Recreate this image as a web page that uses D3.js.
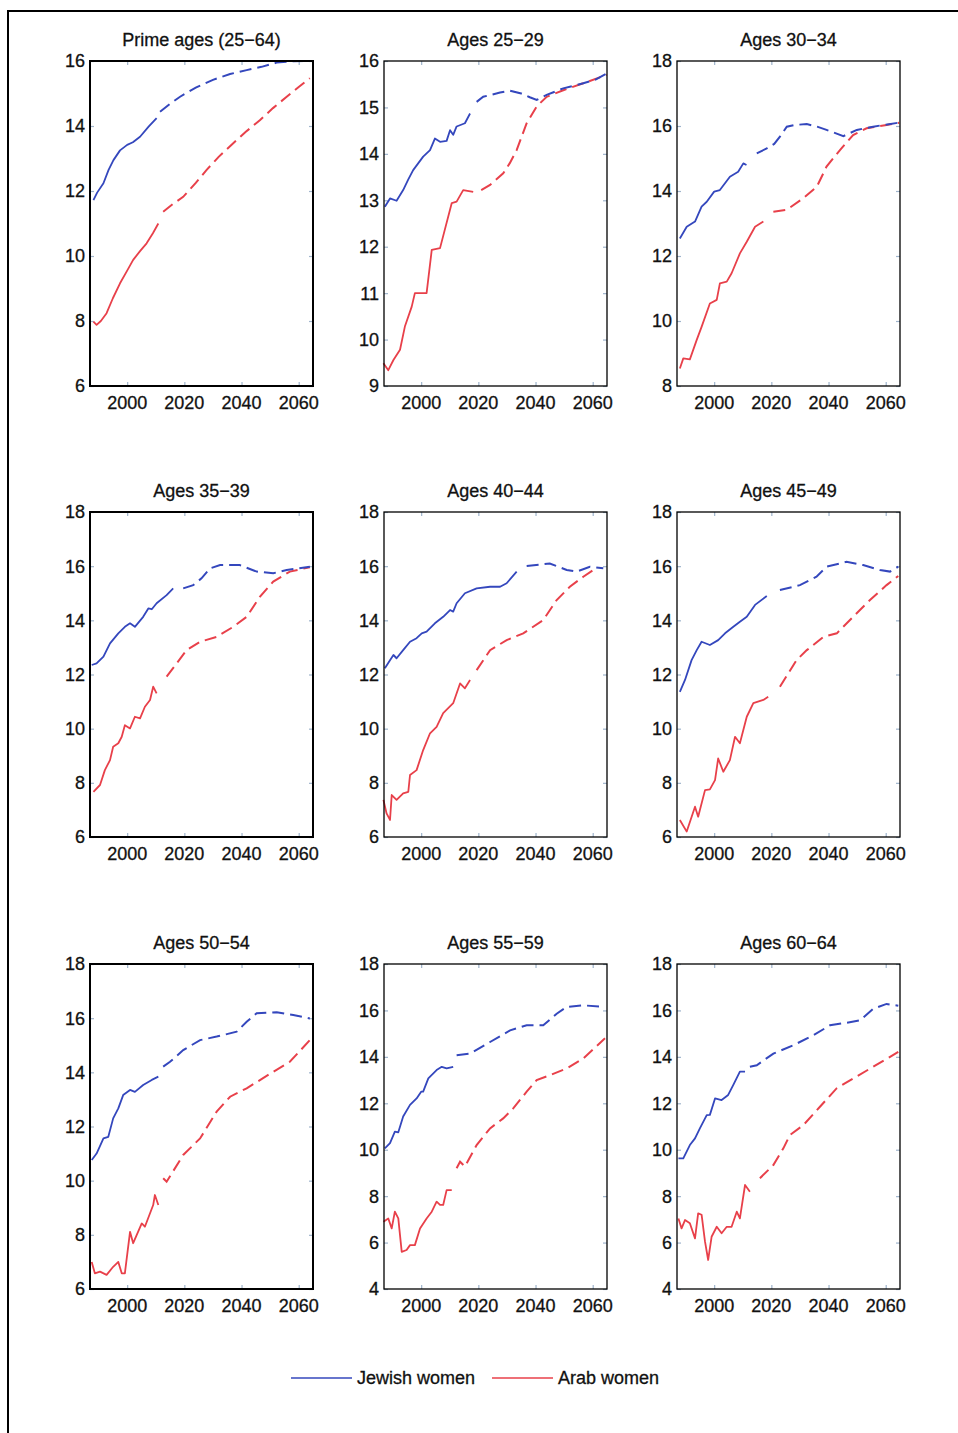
<!DOCTYPE html>
<html>
<head>
<meta charset="utf-8">
<script src="https://cdn.jsdelivr.net/npm/d3@7"></script>
<style>
  html, body { margin: 0; padding: 0; background: #fff; }
  svg { display: block; }
  text { font-family: "Liberation Sans", Arial, Helvetica, sans-serif; fill: #111; stroke: #111; stroke-width: 0.3px; }
</style>
</head>
<body>
<svg id="chart" width="958" height="1433"></svg>
<script>
// ---------------- DATA ----------------
const panelTitles = ["Prime ages (25\u221264)", "Ages 25\u221229", "Ages 30\u221234",
                     "Ages 35\u221239", "Ages 40\u221244", "Ages 45\u221249",
                     "Ages 50\u221254", "Ages 55\u221259", "Ages 60\u221264"];
const yDomains = [[6,16],[9,16],[8,18],[6,18],[6,18],[6,18],[6,18],[4,18],[4,18]];
const yTickSteps = [2,1,2,2,2,2,2,2,2];
const xTicks = [2000, 2020, 2040, 2060];
const xDomain = [1987, 2065];
const seriesNames = ["Jewish women", "Arab women"];

// [year, value]; solid (observed) up to split year, dashed (projection) afterwards
const jewish1 = [[1988.2,11.72],[1989.5,11.95],[1991.7,12.24],[1993.5,12.65],[1995.2,12.95],[1997.5,13.25],[2000,13.42],[2002,13.5],[2004.5,13.67],[2007.5,13.98],[2010.3,14.24],[2011.5,14.44],[2015,14.68],[2018.5,14.9],[2024,15.18],[2030,15.42],[2036,15.6],[2041.8,15.72],[2047,15.82],[2052.3,15.95],[2058,15.99],[2064.5,16.0]];
const arab1 = [[1988.2,7.98],[1989.3,7.88],[1990.8,8.0],[1992.8,8.24],[1995,8.7],[1997.5,9.16],[2000,9.55],[2002.1,9.88],[2004.5,10.15],[2006.8,10.39],[2009,10.7],[2010.9,11.0],[2012.6,11.36],[2016,11.6],[2019.6,11.82],[2024,12.25],[2027.8,12.65],[2032,13.05],[2037.1,13.47],[2041.5,13.82],[2046.4,14.18],[2051,14.55],[2055.8,14.9],[2060,15.2],[2063.9,15.47]];

const jewish2 = [[1987.3,12.86],[1989.1,13.04],[1991.4,12.99],[1993.7,13.22],[1995.5,13.45],[1997.2,13.65],[2000.7,13.94],[2003.1,14.08],[2004.8,14.33],[2006.6,14.26],[2008.9,14.28],[2010.1,14.51],[2011.2,14.41],[2012.4,14.59],[2015.3,14.66],[2017.1,14.87],[2019.4,15.12],[2021.7,15.23],[2027.6,15.32],[2031,15.36],[2035,15.3],[2038,15.22],[2040.4,15.16],[2043.9,15.27],[2049.7,15.41],[2056.7,15.52],[2061,15.6],[2064.9,15.73]];
const arab2 = [[1986.8,9.49],[1988.5,9.34],[1990.3,9.56],[1992.6,9.78],[1994.3,10.28],[1996.7,10.71],[1997.8,11.0],[2001.9,11.0],[2003.7,11.93],[2006.6,11.97],[2010.7,12.94],[2012.4,12.97],[2014.7,13.22],[2018.2,13.18],[2021,13.22],[2024.1,13.33],[2028.7,13.58],[2031,13.8],[2033.4,14.08],[2036.9,14.66],[2040.4,15.02],[2043.9,15.23],[2049.7,15.37],[2056.7,15.52],[2064.9,15.7]];

const jewish3 = [[1988,12.54],[1990.4,12.9],[1993.3,13.06],[1995.6,13.52],[1997.4,13.67],[2000,13.98],[2002,14.03],[2005.5,14.44],[2008.4,14.59],[2010.2,14.85],[2011.3,14.8],[2014.9,15.16],[2018.4,15.31],[2021,15.45],[2023,15.67],[2025.4,15.98],[2028,16.03],[2032.4,16.06],[2036,15.98],[2039.3,15.88],[2045.2,15.69],[2049.9,15.88],[2055.6,15.98],[2064.4,16.1]];
const arab3 = [[1988,8.54],[1989.2,8.85],[1991.5,8.82],[1993.9,9.42],[1995.6,9.82],[1998.5,10.54],[2000.9,10.65],[2002,11.16],[2004.4,11.21],[2006.1,11.47],[2009,12.08],[2011.4,12.44],[2014.3,12.9],[2017.2,13.06],[2020.7,13.36],[2025.4,13.42],[2031.2,13.78],[2035.9,14.13],[2039.3,14.75],[2044,15.26],[2048.6,15.72],[2053.3,15.93],[2060.3,16.03],[2064.7,16.1]];

const jewish4 = [[1987.6,12.35],[1989.3,12.41],[1991.7,12.66],[1994,13.15],[1996.9,13.52],[1999.2,13.76],[2001,13.89],[2002.7,13.76],[2005.6,14.13],[2007.4,14.44],[2008.6,14.41],[2010.3,14.63],[2013.8,14.93],[2016.1,15.18],[2019.6,15.18],[2023.1,15.3],[2026,15.55],[2029,15.92],[2032.5,16.04],[2039.4,16.04],[2045.3,15.8],[2051.1,15.74],[2055.8,15.86],[2063.9,15.98]];
const arab4 = [[1988.2,7.67],[1990.5,7.92],[1992.2,8.47],[1994,8.84],[1995.1,9.33],[1996.9,9.46],[1998.1,9.7],[1999.2,10.13],[2001,10.01],[2002.7,10.44],[2004.5,10.38],[2006.2,10.81],[2008,11.06],[2009.1,11.55],[2010.3,11.3],[2013.8,11.92],[2017.3,12.41],[2020.8,12.9],[2025.5,13.21],[2031.3,13.39],[2037.1,13.76],[2041.8,14.13],[2046.4,14.87],[2051.1,15.43],[2056.9,15.8],[2063.9,15.96]];

const jewish5 = [[1987.3,12.23],[1989.1,12.53],[1990.3,12.72],[1991.4,12.6],[1993.7,12.9],[1996.1,13.21],[1998.4,13.34],[2000.2,13.52],[2001.9,13.58],[2004.8,13.89],[2007.7,14.13],[2010.1,14.38],[2011.2,14.32],[2012.4,14.63],[2015.3,15.0],[2019.4,15.18],[2024.1,15.24],[2027.6,15.24],[2029.9,15.37],[2033.4,15.8],[2036.9,16.01],[2045,16.1],[2050.9,15.86],[2054.4,15.8],[2059,15.98],[2063.7,15.92]];
const arab5 = [[1986.8,7.37],[1987.9,6.87],[1989.1,6.63],[1989.7,7.55],[1991.4,7.37],[1993.7,7.61],[1995.5,7.67],[1996.1,8.29],[1998.4,8.47],[2000.7,9.21],[2003.1,9.83],[2005.4,10.07],[2007.7,10.57],[2011.2,10.94],[2013.6,11.67],[2015.3,11.49],[2017.1,11.8],[2019.4,12.16],[2024.1,12.9],[2029.9,13.27],[2035.7,13.52],[2042.7,14.01],[2047.4,14.75],[2052,15.24],[2056.7,15.61],[2060.2,15.86]];

const jewish6 = [[1988,11.36],[1989.8,11.8],[1992.1,12.53],[1993.9,12.9],[1995.6,13.21],[1998.5,13.09],[2001.4,13.27],[2003.8,13.52],[2006.7,13.76],[2009,13.95],[2011.4,14.13],[2014.3,14.57],[2018.4,14.9],[2023,15.12],[2030,15.3],[2035.8,15.61],[2039.3,15.98],[2046.3,16.16],[2052.1,16.04],[2058,15.86],[2061.5,15.8],[2064.4,15.98]];
const arab6 = [[1988,6.63],[1990.4,6.2],[1993.3,7.12],[1994.4,6.75],[1996.8,7.73],[1998.5,7.76],[2000.3,8.1],[2001.4,8.9],[2003.2,8.41],[2005.5,8.84],[2007.3,9.7],[2009,9.46],[2011.4,10.44],[2013.7,10.94],[2017.2,11.06],[2018.9,11.18],[2023,11.55],[2028.8,12.53],[2032.4,12.9],[2038.2,13.39],[2042.9,13.52],[2048.6,14.13],[2054.5,14.75],[2060.3,15.3],[2064.4,15.64]];

const jewish7 = [[1987.6,10.76],[1989.3,11.0],[1991.7,11.56],[1993.4,11.62],[1995.1,12.3],[1996.9,12.67],[1998.6,13.16],[2001,13.35],[2002.7,13.28],[2005.6,13.53],[2008.6,13.72],[2010.9,13.84],[2012.6,14.21],[2015,14.39],[2019.6,14.82],[2025.5,15.19],[2031.3,15.32],[2038.3,15.5],[2041.8,15.87],[2045.3,16.18],[2052.3,16.22],[2058.1,16.12],[2063.9,15.99]];
const arab7 = [[1987.6,7.0],[1988.7,6.58],[1990.5,6.64],[1992.8,6.52],[1995.1,6.82],[1996.9,7.0],[1998.1,6.58],[1999.2,6.58],[2001,8.11],[2002.1,7.69],[2005.1,8.42],[2006.2,8.3],[2009.1,9.1],[2009.7,9.47],[2010.9,9.1],[2012.6,10.09],[2013.8,9.96],[2019.6,10.95],[2025.5,11.56],[2031.3,12.55],[2036,13.1],[2041.8,13.41],[2051.1,14.02],[2056.9,14.39],[2063.9,15.19]];

const jewish8 = [[1987.3,10.06],[1989.1,10.28],[1990.8,10.78],[1992,10.75],[1993.7,11.43],[1996.1,11.93],[1998.4,12.21],[2000,12.5],[2000.7,12.5],[2002.5,13.07],[2005.4,13.43],[2007.2,13.57],[2008.9,13.5],[2011.2,13.57],[2012.4,14.07],[2017.1,14.14],[2024.1,14.64],[2031.1,15.14],[2036.9,15.36],[2042.7,15.36],[2047.4,15.86],[2050.9,16.15],[2056.7,16.22],[2063.7,16.15]];
const arab8 = [[1986.8,6.9],[1988.5,7.04],[1989.7,6.61],[1990.8,7.33],[1992,7.04],[1993.2,5.6],[1994.9,5.68],[1996.1,5.89],[1997.8,5.89],[1999.6,6.61],[2001.9,7.04],[2003.7,7.33],[2005.4,7.76],[2006.6,7.62],[2007.7,7.62],[2008.9,8.26],[2010.7,8.26],[2012.4,9.2],[2013.6,9.48],[2015.3,9.27],[2019.4,10.2],[2024.1,10.92],[2028.7,11.35],[2032.2,11.78],[2036.9,12.5],[2040.4,13.0],[2045,13.21],[2050.9,13.5],[2056.7,13.93],[2064.3,14.8]];

const jewish9 = [[1987.5,9.63],[1989.2,9.63],[1991.5,10.2],[1993.3,10.49],[1995,10.92],[1997.4,11.49],[1998.5,11.5],[2000.3,12.21],[2002.6,12.14],[2004.9,12.36],[2006.7,12.79],[2009,13.36],[2010.8,13.36],[2012.5,13.57],[2014.9,13.64],[2020.7,14.14],[2027.7,14.5],[2034.7,14.93],[2040.5,15.36],[2046.3,15.47],[2051,15.57],[2055.6,16.07],[2060.3,16.28],[2064.4,16.2]];
const arab9 = [[1987.5,7.04],[1988.6,6.61],[1989.8,6.97],[1991.5,6.83],[1993.3,6.18],[1994.4,7.26],[1995.6,7.2],[1996.8,6.04],[1997.9,5.25],[1999.1,6.25],[2000.9,6.68],[2002.6,6.4],[2004.4,6.68],[2006.1,6.68],[2007.9,7.33],[2009,7.04],[2010.8,8.48],[2012.5,8.19],[2016,8.77],[2020.7,9.34],[2024.2,10.06],[2026.5,10.63],[2031.2,11.06],[2037,11.85],[2042.8,12.64],[2048.6,13.07],[2055.6,13.57],[2064.4,14.21]];

const jewishSeries = [jewish1, jewish2, jewish3, jewish4, jewish5, jewish6, jewish7, jewish8, jewish9];
const arabSeries = [arab1, arab2, arab3, arab4, arab5, arab6, arab7, arab8, arab9];
// last observed year (solid) per panel
const jewishSplit = [2010.3, 2017.1, 2011.3, 2016.1, 2033.4, 2018.4, 2010.9, 2011.2, 2010.8];
const arabSplit   = [2010.9, 2018.2, 2017.2, 2010.3, 2017.1, 2018.9, 2010.9, 2010.7, 2012.5];

// ---------------- LAYOUT ----------------
const colLeft = [90, 384, 677];
const rowTop = [61, 512, 964];
const pw = 223, ph = 325;
const colors = { jewish: "#3447bd", arab: "#e8404a" };
const fontSize = 18;

const svg = d3.select("#chart");

// outer frame (extends past the right and bottom page edges)
svg.append("rect")
  .attr("x", 8).attr("y", 11)
  .attr("width", 980).attr("height", 1460)
  .attr("fill", "none").attr("stroke", "#000").attr("stroke-width", 2);

panelTitles.forEach((title, i) => {
  const col = i % 3, row = Math.floor(i / 3);
  const left = colLeft[col], top = rowTop[row];
  const x = d3.scaleLinear().domain(xDomain).range([0, pw]);
  const y = d3.scaleLinear().domain(yDomains[i]).range([ph, 0]);
  const yTicks = d3.range(yDomains[i][0], yDomains[i][1] + 0.001, yTickSteps[i]);

  const g = svg.append("g").attr("transform", `translate(${left},${top})`);

  // inward tick marks on all four sides
  const tickColor = "#9fb4cc";
  const axL = g.append("g").call(d3.axisLeft(y).tickValues(yTicks).tickSize(-4).tickFormat(""));
  const axR = g.append("g").attr("transform", `translate(${pw},0)`).call(d3.axisRight(y).tickValues(yTicks).tickSize(-4).tickFormat(""));
  const axT = g.append("g").call(d3.axisTop(x).tickValues(xTicks).tickSize(-4).tickFormat(""));
  const axB = g.append("g").attr("transform", `translate(0,${ph})`).call(d3.axisBottom(x).tickValues(xTicks).tickSize(-4).tickFormat(""));
  [axL, axR, axT, axB].forEach(a => {
    a.select(".domain").remove();
    a.selectAll("line").attr("stroke", tickColor).attr("stroke-width", 1.2);
  });

  // y tick labels
  g.append("g").selectAll("text").data(yTicks).join("text")
    .attr("x", -5).attr("y", d => y(d))
    .attr("dy", "0.36em")
    .attr("text-anchor", "end")
    .attr("font-size", fontSize)
    .text(d => d);

  // x tick labels
  g.append("g").selectAll("text").data(xTicks).join("text")
    .attr("x", d => x(d)).attr("y", ph + 23)
    .attr("text-anchor", "middle")
    .attr("font-size", fontSize)
    .text(d => d);

  // title
  g.append("text")
    .attr("x", pw / 2).attr("y", -15)
    .attr("text-anchor", "middle")
    .attr("font-size", fontSize)
    .text(title);

  const line = d3.line().x(d => x(d[0])).y(d => y(d[1]));
  const drawSeries = (data, split, color) => {
    const solid = data.filter(d => d[0] <= split);
    const dashed = data.filter(d => d[0] > split);
    g.append("path").datum(solid)
      .attr("d", line).attr("fill", "none")
      .attr("stroke", color).attr("stroke-width", 1.8)
      .attr("stroke-linejoin", "round");
    g.append("path").datum(dashed)
      .attr("d", line).attr("fill", "none")
      .attr("stroke", color).attr("stroke-width", 2)
      .attr("stroke-dasharray", "12,6");
  };
  drawSeries(arabSeries[i], arabSplit[i], colors.arab);
  drawSeries(jewishSeries[i], jewishSplit[i], colors.jewish);

  // plot frame
  g.append("rect")
    .attr("x", 0).attr("y", 0).attr("width", pw).attr("height", ph)
    .attr("fill", "none").attr("stroke", "#000")
    .attr("stroke-width", col === 0 ? 2 : 1.3);
});

// legend
const legend = svg.append("g");
const legendItems = [
  { name: seriesNames[0], color: colors.jewish, x0: 291 },
  { name: seriesNames[1], color: colors.arab, x0: 492 }
];
legendItems.forEach(it => {
  legend.append("line")
    .attr("x1", it.x0).attr("x2", it.x0 + 61)
    .attr("y1", 1378).attr("y2", 1378)
    .attr("stroke", it.color).attr("stroke-width", 1.3);
  legend.append("text")
    .attr("x", it.x0 + 66).attr("y", 1384)
    .attr("font-size", fontSize)
    .text(it.name);
});
</script>
</body>
</html>
